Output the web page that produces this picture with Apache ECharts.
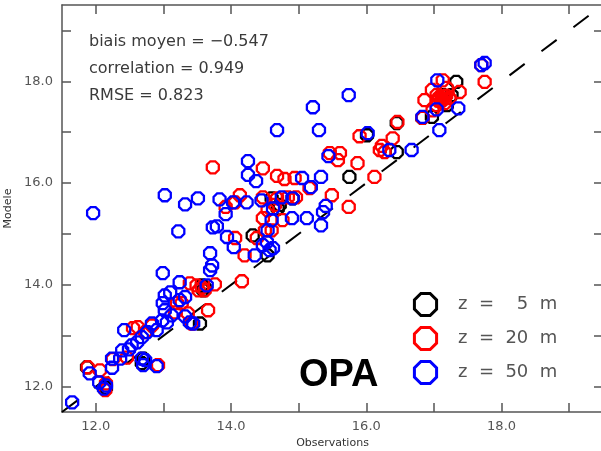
<!DOCTYPE html>
<html>
<head>
<meta charset="utf-8">
<script src="https://cdn.jsdelivr.net/npm/echarts@6/dist/echarts.min.js"></script>
<style>
  html, body { margin: 0; padding: 0; background: #fff; }
  #chart { width: 601px; height: 451px; }
</style>
</head>
<body>
<div id="chart"></div>
<script>
// Axis range and tick positions (both axes share them)
const axisMin = 11.5;
const axisMax = 19.5;
const tickValues = [12, 13, 14, 15, 16, 17, 18, 19];
const labelValues = [12, 14, 16, 18];
const diagonal = [11.5, 19.5];

// z = 5 m
const obs5 = [11.87, 12.15, 12.70, 12.68, 13.54, 13.57, 13.61, 13.59, 14.32, 14.54, 14.69, 14.72,
              14.60, 14.91, 15.75, 16.01, 16.45, 16.97, 17.19, 17.26, 17.33, 17.13, 16.45, 16.83];
const mod5 = [12.38, 11.98, 12.55, 12.46, 13.24, 13.99, 13.95, 13.89, 14.97, 14.58, 15.50, 15.57,
              15.70, 15.70, 16.12, 16.94, 16.61, 17.30, 17.53, 17.73, 17.99, 17.73, 17.18, 17.28];

// z = 20 m
const obs20 = [11.88, 12.06, 12.14, 12.15, 12.25, 12.46, 12.55, 12.62, 12.73, 12.83, 12.92, 13.17,
               13.20, 13.27, 13.36, 13.39, 13.42, 13.49, 13.52, 13.57, 13.61, 13.66, 13.76, 14.16,
               14.20, 14.06, 14.38, 13.92, 14.06, 14.13, 13.73, 14.47, 14.68, 14.79, 14.94, 14.47,
               14.68, 14.84, 14.54, 14.47, 14.76, 14.50, 14.60, 14.65, 15.16, 14.96, 15.46, 15.61,
               15.58, 15.90, 15.87, 16.12, 15.49, 15.74, 16.23, 16.27, 16.20, 16.39, 16.46, 16.83,
               16.86, 16.97, 17.13, 17.19, 17.38, 16.98, 17.16, 17.23, 17.04, 17.08, 17.04, 17.13,
               17.75, 17.70, 17.10, 17.15, 17.06, 17.12, 17.18];
const mod20 = [12.38, 12.32, 11.93, 12.06, 12.54, 12.57, 13.15, 13.17, 13.07, 13.20, 12.42, 13.46,
               13.64, 13.64, 13.44, 14.03, 13.24, 13.99, 13.89, 13.95, 13.89, 13.50, 14.01, 14.07,
               14.58, 14.92, 14.92, 15.53, 15.62, 15.76, 16.31, 16.29, 16.14, 16.08, 16.10, 15.72,
               15.70, 15.72, 15.47, 15.31, 15.27, 15.07, 15.07, 15.57, 15.90, 15.72, 16.59, 16.59,
               16.45, 16.92, 16.39, 16.12, 15.76, 15.53, 16.73, 16.61, 16.65, 16.88, 17.20, 17.28,
               17.63, 17.83, 18.02, 17.87, 17.79, 17.43, 17.57, 17.67, 17.53, 17.69, 17.73, 17.63,
               17.99, 18.32, 17.60, 17.70, 17.62, 17.66, 17.72];

// z = 50 m
const obs50 = [11.65, 11.96, 11.91, 12.05, 12.12, 12.15, 12.24, 12.24, 12.36, 12.42, 12.39, 12.49,
               12.53, 12.61, 12.68, 12.76, 12.83, 12.90, 12.68, 12.73, 12.70, 12.90, 12.98, 13.05,
               13.02, 13.12, 13.32, 13.39, 13.44, 12.99, 13.24, 13.02, 13.10, 12.99, 13.24, 13.64,
               13.32, 13.69, 13.72, 13.69, 14.04, 13.94, 14.35, 13.22, 13.73, 13.79, 13.92, 13.02,
               13.32, 13.51, 13.83, 14.03, 14.23, 14.45, 14.25, 14.25, 14.37, 15.05, 15.33, 15.18,
               14.75, 14.91, 15.40, 15.36, 15.12, 14.90, 15.33, 14.60, 14.54, 14.53, 14.62, 14.47,
               14.57, 14.68, 15.21, 15.74, 15.30, 15.44, 16.02, 16.34, 16.67, 17.05, 17.70, 17.75,
               17.04, 17.36, 17.08, 16.83, 14.62];
const mod50 = [11.69, 15.41, 12.26, 12.08, 11.96, 12.02, 12.37, 12.55, 12.55, 13.11, 12.71, 12.73,
               12.81, 12.87, 12.97, 13.07, 13.24, 13.11, 12.55, 12.52, 12.42, 12.40, 13.30, 13.26,
               13.50, 13.40, 13.38, 13.26, 13.24, 13.64, 13.70, 13.79, 13.85, 14.23, 14.05, 13.99,
               13.76, 14.29, 14.38, 14.62, 14.74, 14.94, 14.58, 15.05, 15.13, 15.15, 15.39, 15.76,
               15.58, 15.70, 15.68, 15.62, 15.62, 15.66, 16.43, 16.16, 16.04, 16.10, 16.12, 15.92,
               15.72, 15.70, 15.55, 15.43, 15.31, 15.31, 15.17, 15.27, 15.07, 14.84, 14.72, 14.78,
               14.68, 17.04, 17.49, 17.73, 17.04, 16.53, 16.98, 16.65, 16.65, 18.02, 18.32, 18.36,
               17.45, 17.47, 17.04, 17.30, 15.50];

const depthNames = ['z =  5 m', 'z = 20 m', 'z = 50 m'];
const depthColors = ['#000000', '#ff0000', '#0000ff'];

const stats = ['biais moyen = \u22120.547', 'correlation = 0.949', 'RMSE = 0.823'];

const OCTAGON = 'path://M2.93,0L7.07,0L10,2.93L10,7.07L7.07,10L2.93,10L0,7.07L0,2.93Z';
const AXIS_COLOR = '#555';
const FONT = '"DejaVu Sans", sans-serif';

function pairs(xs, ys) {
  return xs.map((x, i) => [x, ys[i]]);
}

function scatter(name, color, data) {
  return {
    name: name,
    type: 'scatter',
    data: data,
    symbol: OCTAGON,
    symbolSize: 12,
    itemStyle: { color: 'rgba(0,0,0,0)', borderColor: color, borderWidth: 2.3, opacity: 1 },
    emphasis: { disabled: true },
    silent: true
  };
}

function axis(dim, position, withLabels) {
  return {
    type: 'value',
    position: position,
    min: axisMin,
    max: axisMax,
    axisLine: { show: true, onZero: false, lineStyle: { color: AXIS_COLOR, width: 1.5 } },
    axisTick: {
      show: true, inside: true, length: 9, customValues: tickValues,
      lineStyle: { color: AXIS_COLOR, width: 1.5 }
    },
    axisLabel: withLabels ? {
      show: true, customValues: labelValues, margin: dim === 'x' ? 8 : 9,
      formatter: v => v.toFixed(1),
      color: '#555', fontSize: 13, fontFamily: FONT
    } : { show: false },
    splitLine: { show: false }
  };
}

const chart = echarts.init(document.getElementById('chart'), null, { renderer: 'canvas' });

const xBottom = axis('x', 'bottom', true);
xBottom.name = 'Observations';
xBottom.nameLocation = 'middle';
xBottom.nameGap = 24;
xBottom.nameTextStyle = { color: '#333', fontSize: 11, fontFamily: FONT };

const yLeft = axis('y', 'left', true);
yLeft.name = 'Modele';
yLeft.nameLocation = 'middle';
yLeft.nameGap = 42;
yLeft.nameTextStyle = { color: '#333', fontSize: 11, fontFamily: FONT };

// legend glyphs
function octagonPoints(cx, cy, r) {
  const pts = [];
  for (let k = 0; k < 8; k++) {
    const a = Math.PI / 8 + k * Math.PI / 4;
    pts.push([cx + r * Math.cos(a), cy + r * Math.sin(a)]);
  }
  return pts;
}

const legendY = [304.5, 338.5, 372.5];
const graphics = [];
stats.forEach((t, i) => {
  graphics.push({
    type: 'text', x: 89, y: 42 + i * 27, silent: true,
    style: { text: t, fill: '#3a3a3a', font: '16px ' + FONT, align: 'left', verticalAlign: 'middle' }
  });
});
depthNames.forEach((n, i) => {
  graphics.push({
    type: 'polygon', silent: true,
    shape: { points: octagonPoints(425.5, legendY[i], 12) },
    style: { fill: 'none', stroke: depthColors[i], lineWidth: 3 }
  });
  graphics.push({
    type: 'text', x: 458, y: legendY[i], silent: true,
    style: {
      text: n.replace(/ /g, '  '), fill: '#555', font: '18px ' + FONT,
      align: 'left', verticalAlign: 'middle'
    }
  });
});
graphics.push({
  type: 'text', x: 299, y: 376, silent: true,
  style: {
    text: 'OPA', fill: '#000', font: 'bold 38px "Liberation Sans", Arial, sans-serif',
    align: 'left', verticalAlign: 'middle'
  }
});

chart.setOption({
  animation: false,
  backgroundColor: '#fff',
  grid: { left: 62, top: 5, width: 541, height: 407, containLabel: false, outerBoundsMode: 'none' },
  xAxis: [xBottom, axis('x', 'top', false)],
  yAxis: [yLeft, axis('y', 'right', false)],
  series: [
    {
      type: 'line',
      data: [[diagonal[0], diagonal[0]], [diagonal[1], diagonal[1]]],
      symbol: 'none',
      silent: true,
      lineStyle: { color: '#000', width: 2, type: [19, 21] },
      z: 1
    },
    scatter(depthNames[0], depthColors[0], pairs(obs5, mod5)),
    scatter(depthNames[1], depthColors[1], pairs(obs20, mod20)),
    scatter(depthNames[2], depthColors[2], pairs(obs50, mod50))
  ],
  graphic: graphics
});
</script>
</body>
</html>
